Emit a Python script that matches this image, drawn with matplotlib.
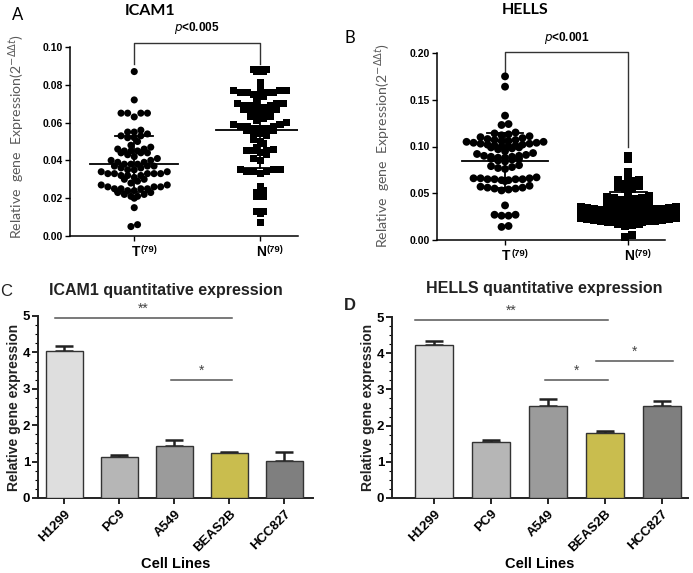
import numpy as np
import matplotlib
matplotlib.use("Agg")
import matplotlib.pyplot as plt
from matplotlib.ticker import MultipleLocator

# ---------------- data ----------------
groups = ["T", "N"]
group_n = ["(79)", "(79)"]

icam1_T = [0.087, 0.072,
           0.065, 0.065, 0.065, 0.065, 0.063,
           0.056, 0.055, 0.055, 0.054, 0.053, 0.053, 0.052, 0.052,
           0.048, 0.047, 0.046, 0.046, 0.045, 0.045, 0.045, 0.044, 0.044, 0.044, 0.043, 0.042,
           0.041, 0.040, 0.040, 0.039, 0.039, 0.038, 0.038, 0.038, 0.037, 0.037, 0.037, 0.036, 0.036, 0.035, 0.035,
           0.034, 0.034, 0.033, 0.033, 0.033, 0.033, 0.033, 0.032, 0.032, 0.032, 0.031, 0.030,
           0.029, 0.028, 0.027, 0.027, 0.026, 0.026, 0.026, 0.025, 0.025, 0.025, 0.025, 0.024, 0.024,
           0.023, 0.023, 0.022, 0.022, 0.021, 0.021, 0.020,
           0.015, 0.006, 0.005, 0.050, 0.030]

icam1_N = [0.088, 0.088, 0.087, 0.087, 0.088,
           0.081, 0.078,
           0.077, 0.077, 0.076, 0.076, 0.075, 0.075, 0.076, 0.077, 0.076, 0.074,
           0.071, 0.070, 0.070, 0.069, 0.069, 0.068, 0.068, 0.067, 0.066, 0.066, 0.065, 0.070, 0.069, 0.067,
           0.064, 0.063, 0.063, 0.062, 0.060, 0.059, 0.058, 0.058, 0.057, 0.057, 0.057, 0.056, 0.056, 0.055,
           0.055, 0.054, 0.058, 0.059,
           0.051, 0.049, 0.047, 0.046, 0.045, 0.045, 0.045, 0.044, 0.043, 0.041, 0.040,
           0.035, 0.035, 0.034, 0.034, 0.034, 0.033, 0.035,
           0.026, 0.023, 0.021, 0.021, 0.024,
           0.013, 0.013, 0.012, 0.007,
           0.050, 0.053, 0.061]

hells_T = [0.175, 0.164, 0.133, 0.124, 0.123,
           0.115, 0.114, 0.113, 0.112, 0.111, 0.110,
           0.109, 0.108, 0.107, 0.107, 0.106, 0.106, 0.105, 0.105, 0.104, 0.104, 0.103, 0.103,
           0.102, 0.102, 0.101, 0.101, 0.100, 0.100, 0.099, 0.099, 0.098, 0.097,
           0.093, 0.092, 0.091, 0.090, 0.090, 0.089, 0.089, 0.088, 0.088, 0.087, 0.087, 0.086, 0.085, 0.084,
           0.080, 0.079, 0.078, 0.077, 0.076,
           0.067, 0.066, 0.066, 0.066, 0.065, 0.065, 0.065, 0.065, 0.064, 0.064, 0.063,
           0.058, 0.057, 0.056, 0.056, 0.055, 0.055, 0.054, 0.053,
           0.037, 0.027, 0.027, 0.026, 0.026, 0.015, 0.014,
           0.095]

hells_N = [0.090, 0.087,
           0.073, 0.068, 0.064, 0.064, 0.063,
           0.060, 0.058, 0.057, 0.055, 0.054, 0.050,
           0.047, 0.046, 0.045, 0.045, 0.044, 0.043, 0.042, 0.041, 0.040, 0.040,
           0.038, 0.037, 0.036, 0.036, 0.035, 0.035, 0.034, 0.034, 0.033, 0.033, 0.033, 0.032, 0.032,
           0.032, 0.031, 0.031, 0.030, 0.030, 0.030, 0.029,
           0.029, 0.028, 0.028, 0.028, 0.027, 0.027, 0.027, 0.026, 0.026, 0.026, 0.025, 0.025, 0.025,
           0.024, 0.024, 0.023, 0.023, 0.022, 0.022, 0.021,
           0.021, 0.020, 0.020, 0.020, 0.019, 0.019, 0.019, 0.018, 0.018, 0.018, 0.017, 0.017, 0.016, 0.015,
           0.005, 0.003]

cell_lines = ["H1299", "PC9", "A549", "BEAS2B", "HCC827"]
icam1_bar = [4.04, 1.13, 1.42, 1.24, 1.03]
icam1_err = [0.13, 0.04, 0.18, 0.03, 0.24]
hells_bar = [4.22, 1.56, 2.55, 1.80, 2.55]
hells_err = [0.13, 0.04, 0.18, 0.05, 0.12]
bar_colors = ["#dedede", "#b6b6b6", "#9b9b9b", "#c9bd4e", "#7f7f7f"]

# ---------------- figure ----------------
W, H = 693, 573
fig = plt.figure(figsize=(W / 100, H / 100), dpi=100)

def axes_px(l, r, t, b):
    return fig.add_axes([l / W, 1 - b / H, (r - l) / W, (b - t) / H])

SANS = ["Lato", "DejaVu Sans"]
ARIAL = ["Liberation Sans", "DejaVu Sans"]


def row_swarm(ax, xc, vals, d, binh, maxw):
    """GraphPad-like scatter: points binned into rows, spread sideways,
    lower values in the middle of each row (gives the 'smile' rows)."""
    vals = np.asarray(vals, float)
    pts = ax.transData.transform(np.column_stack([np.full(len(vals), xc), vals]))
    ys = pts[:, 1]
    bins = np.floor((ys - ys.min()) / binh + 0.5).astype(int)
    xs = np.zeros(len(vals))
    for b in np.unique(bins):
        idx = np.where(bins == b)[0]
        idx = idx[np.argsort(ys[idx])]
        n = len(idx)
        dd = d if n <= 1 else min(d, maxw / (n - 1))
        pos = (np.arange(n) - (n - 1) / 2.0) * dd
        pos = pos[np.argsort(np.abs(pos) + 1e-3 * pos, kind="stable")]
        xs[idx] = pos
    back = ax.transData.inverted().transform(np.column_stack([pts[:, 0] + xs, ys]))
    return back[:, 0]


def scatter_panel(ax, xl, data, markers, ylim, yticks, msize, dpx, binh, maxw, bracket, ptxt, ptxt_y):
    ax.set_xlim(*xl)
    ax.set_ylim(*ylim)
    for i, (vals, mk) in enumerate(zip(data, markers)):
        xs = row_swarm(ax, i, vals, dpx, binh, maxw)
        ax.scatter(xs, vals, s=msize, marker=mk, color="black", edgecolors="none", zorder=3,
                   clip_on=False)
        m = np.mean(vals)
        sd = np.std(vals, ddof=1)
        ax.plot([i - 0.35, i + 0.35], [m, m], color="black", lw=1.3, zorder=4)
        ax.plot([i, i], [m - sd, m + sd], color="black", lw=1.3, zorder=4)
        for yv in (m - sd, m + sd):
            ax.plot([i - 0.15, i + 0.15], [yv, yv], color="black", lw=1.3, zorder=4)
    for s in ["top", "right"]:
        ax.spines[s].set_visible(False)
    for s in ["left", "bottom"]:
        ax.spines[s].set_linewidth(1.1)
    ax.spines["left"].set_bounds(ylim[0], yticks[-1])
    ax.set_yticks(yticks)
    ax.set_yticklabels(["{:.2f}".format(v) for v in yticks], fontweight="bold", fontsize=7.5,
                       family=ARIAL)
    ax.tick_params(axis="y", length=3.5, width=1.0, pad=1.5)
    ax.set_xticks([0, 1])
    ax.set_xticklabels(["", ""])
    ax.tick_params(axis="x", length=3.5, width=1.0)
    for i, (g, n) in enumerate(zip(groups, group_n)):
        ax.annotate(g, xy=(i, 0), xycoords=("data", "axes fraction"), xytext=(4, -6.5),
                    textcoords="offset points", ha="right", va="top", fontsize=10,
                    fontweight="bold", family=ARIAL)
        ax.annotate(n, xy=(i, 0), xycoords=("data", "axes fraction"), xytext=(4.5, -6.5),
                    textcoords="offset points", ha="left", va="top", fontsize=6.8,
                    fontweight="bold", family=ARIAL)
    (ytop, yl, yr) = bracket
    ax.plot([0, 0, 1, 1], [yl, ytop, ytop, yr], color="#333333", lw=1.0, clip_on=False)
    ax.text(0.5, ptxt_y, r"$\bf{\it{p}}$" + ptxt, ha="center", va="center", fontsize=8.5,
            fontweight="bold", family=ARIAL, clip_on=False)


# Panel A
axA = axes_px(70, 298, 47, 236)
scatter_panel(axA, (-0.51, 1.30), [icam1_T, icam1_N], ["o", "s"], (0, 0.10),
              [0, 0.02, 0.04, 0.06, 0.08, 0.10], 26, 6.6, 6.5, 88,
              (0.1021, 0.091, 0.091), "<0.005", 0.110)
# Panel B
axB = axes_px(437, 665, 53, 240)
scatter_panel(axB, (-0.553, 1.30), [hells_T, hells_N], ["o", "s"], (0, 0.20),
              [0, 0.05, 0.10, 0.15, 0.20], 32, 7.0, 5.5, 95,
              (0.201, 0.1786, 0.0995), "<0.001", 0.216)

ylab_sc = r"Relative  gene  Expression(2$^{-\Delta\Delta t}$)"
fig.text(17 / W, 1 - 136 / H, ylab_sc, rotation=90, ha="center", va="center", fontsize=10.2,
         color="#5a5a5a", family=SANS)
fig.text(383 / W, 1 - 145 / H, ylab_sc, rotation=90, ha="center", va="center", fontsize=10.2,
         color="#5a5a5a", family=SANS)
fig.text(150 / W, 1 - 11 / H, "ICAM1", ha="center", va="center", fontsize=11.5, fontweight="bold", family=SANS)
fig.text(525 / W, 1 - 10 / H, "HELLS", ha="center", va="center", fontsize=11.5, fontweight="bold", family=SANS)
fig.text(18 / W, 1 - 15 / H, "A", ha="center", va="center", fontsize=12, family=SANS)
fig.text(350 / W, 1 - 38 / H, "B", ha="center", va="center", fontsize=12, family=SANS)


def bar_panel(ax, xl, vals, errs, sigs):
    x = np.arange(len(cell_lines))
    ax.set_xlim(*xl)
    ax.set_ylim(0, 5)
    ax.errorbar(x, vals, yerr=[np.zeros(len(vals)), errs], fmt="none", ecolor="#222222",
                elinewidth=1.8, capsize=6.5, capthick=1.8, zorder=2)
    ax.bar(x, vals, width=0.67, color=bar_colors, edgecolor="#333333", linewidth=1.0, zorder=3)
    for s in ["top", "right"]:
        ax.spines[s].set_visible(False)
    for s in ["left", "bottom"]:
        ax.spines[s].set_linewidth(1.4)
        ax.spines[s].set_color("#222222")
    ax.set_yticks(range(6))
    ax.set_yticklabels([str(v) for v in range(6)], fontweight="bold", fontsize=9.5, family=ARIAL)
    ax.yaxis.set_minor_locator(MultipleLocator(0.25))
    ax.tick_params(axis="y", which="major", length=4, width=1.2, pad=1.5)
    ax.tick_params(axis="y", which="minor", length=2, width=0.8)
    ax.set_xticks(x)
    ax.set_xticklabels(cell_lines, rotation=45, ha="right", rotation_mode="anchor",
                       fontweight="bold", fontsize=9.5, family=ARIAL)
    ax.tick_params(axis="x", length=4, width=1.2, pad=3)
    ax.set_xlabel("Cell Lines", fontweight="bold", fontsize=10.5, family=ARIAL, labelpad=2)
    ax.set_ylabel("Relative gene expression", fontweight="bold", fontsize=10, family=ARIAL,
                  color="#222222", labelpad=1)
    for (x0, x1, yv, lab) in sigs:
        ax.plot([x0, x1], [yv, yv], color="#555555", lw=1.1, clip_on=False)
        ax.text((x0 + x1) / 2, yv + 0.06, lab, ha="center", va="bottom", fontsize=10,
                color="#444444", family=ARIAL, clip_on=False)


axC = axes_px(38, 313, 316, 498)
bar_panel(axC, (-0.48, 4.52), icam1_bar, icam1_err,
          [(-0.17, 3.05, 4.94, "**"), (2.0 - 0.06, 3.05, 3.24, "*")])
axD = axes_px(392, 688, 317, 498)
bar_panel(axD, (-0.74, 4.46), hells_bar, hells_err,
          [(-0.33, 3.05, 4.93, "**"), (1.95, 3.05, 3.26, "*"), (2.85, 4.2, 3.78, "*")])

fig.text(166 / W, 1 - 290 / H, "ICAM1 quantitative expression", ha="center", va="center",
         fontsize=11.5, fontweight="bold", family=ARIAL, color="#222222")
fig.text(544 / W, 1 - 288 / H, "HELLS quantitative expression", ha="center", va="center",
         fontsize=11.5, fontweight="bold", family=ARIAL, color="#222222")
fig.text(6 / W, 1 - 291 / H, "C", ha="center", va="center", fontsize=12, family=ARIAL, color="#222222")
fig.text(350 / W, 1 - 306 / H, "D", ha="center", va="center", fontsize=12, fontweight="bold",
         family=ARIAL, color="#222222")

fig.savefig("out.png", dpi=100)
